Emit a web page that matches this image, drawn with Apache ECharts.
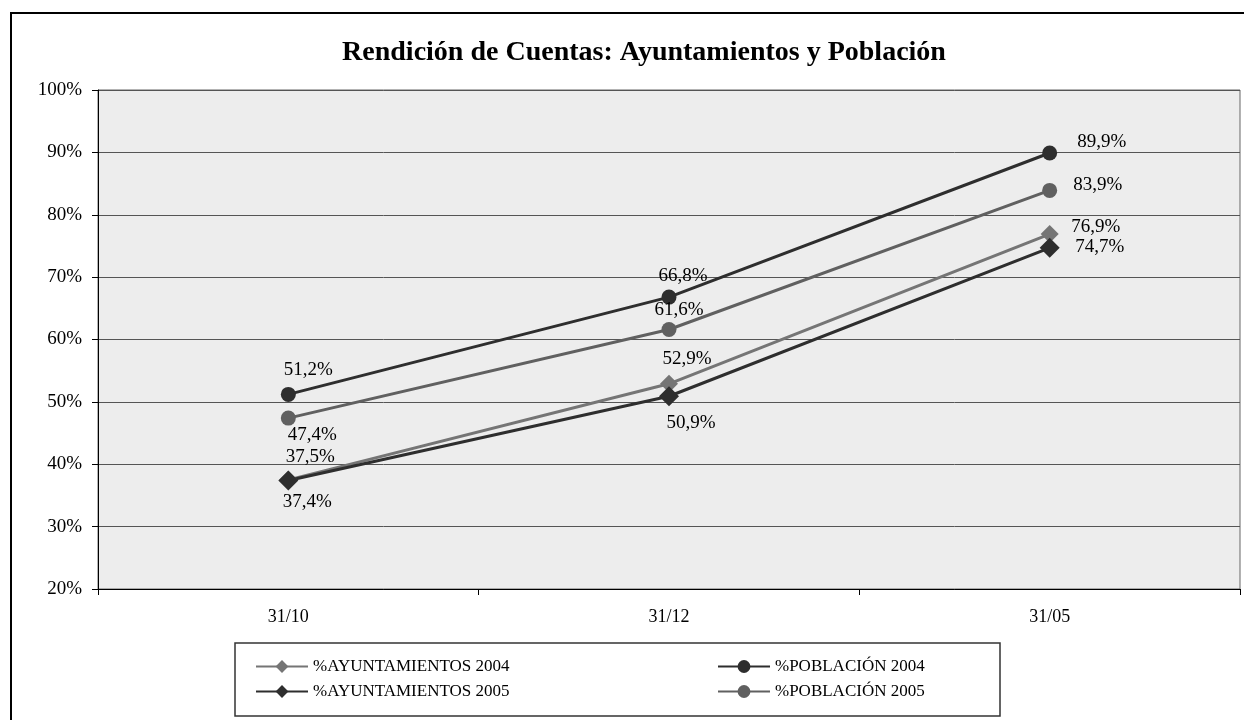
<!DOCTYPE html>
<html>
<head>
<meta charset="utf-8">
<script src="https://cdn.jsdelivr.net/npm/echarts@6/dist/echarts.min.js"></script>
<style>
html,body{margin:0;padding:0;background:#fff;}
#chart{width:1244px;height:720px;}
</style>
</head>
<body>
<div id="chart"></div>
<script>
var categories = ['31/10', '31/12', '31/05'];
var ayuntamientos2004 = [37.5, 52.9, 76.9];
var poblacion2004 = [51.2, 66.8, 89.9];
var ayuntamientos2005 = [37.4, 50.9, 74.7];
var poblacion2005 = [47.4, 61.6, 83.9];
var seriesNames = ['%AYUNTAMIENTOS 2004', '%POBLACIÓN 2004', '%AYUNTAMIENTOS 2005', '%POBLACIÓN 2005'];
var titleText = 'Rendición de Cuentas: Ayuntamientos y Población';

var FONT = '"Liberation Serif", "Times New Roman", serif';

// label offsets (label centre relative to point), per series / per point
var offsA04 = [[22, -23], [18, -25], [46, -7]];
var offsP04 = [[20, -24], [14, -21], [52, -11]];
var offsA05 = [[19, 22], [22, 27], [50, -1]];
var offsP05 = [[24, 17], [10, -20], [48, -5]];

function fmt(v) { return v.toFixed(1).replace('.', ',') + '%'; }

function makeSeries(name, values, offs, color, symbol, size) {
  return {
    name: name,
    type: 'line',
    data: values.map(function (v, i) {
      return {
        value: v,
        label: { offset: offs[i] }
      };
    }),
    symbol: symbol,
    symbolSize: size,
    showAllSymbol: true,
    lineStyle: { color: color, width: 3 },
    itemStyle: { color: color },
    label: {
      show: true,
      position: 'inside',
      align: 'center',
      verticalAlign: 'middle',
      fontFamily: FONT,
      fontSize: 19,
      color: '#000',
      formatter: function (p) { return fmt(p.value); }
    },
    emphasis: { disabled: true },
    animation: false
  };
}

var chart = echarts.init(document.getElementById('chart'), null, { renderer: 'canvas' });

var legendText = { fontFamily: FONT, fontSize: 17, color: '#000' };

chart.setOption({
  backgroundColor: '#fff',
  animation: false,
  title: {
    text: titleText,
    left: 639,
    textAlign: 'center',
    top: 34,
    textStyle: { fontFamily: FONT, fontSize: 28, fontWeight: 'bold', color: '#000' }
  },
  graphic: [
    { type: 'rect', shape: { x: 11, y: 13, width: 1300, height: 800 },
      style: { fill: 'none', stroke: '#000', lineWidth: 2 }, z: 100 },
    { type: 'rect', shape: { x: 235, y: 643, width: 765, height: 73 },
      style: { fill: '#fff', stroke: '#333', lineWidth: 1.5 }, z: 1 }
  ],
  legend: [
    {
      data: [seriesNames[0], seriesNames[2]],
      orient: 'vertical',
      left: 250, top: 653,
      itemWidth: 52, itemHeight: 16, itemGap: 8,
      textStyle: legendText,
      selectedMode: false,
      z: 5
    },
    {
      data: [seriesNames[1], seriesNames[3]],
      orient: 'vertical',
      left: 712, top: 653,
      itemWidth: 52, itemHeight: 16, itemGap: 8,
      textStyle: legendText,
      selectedMode: false,
      z: 5
    }
  ],
  grid: {
    left: 98, top: 90, right: 4, bottom: 131,
    show: true,
    backgroundColor: '#ededed',
    borderColor: '#666',
    borderWidth: 1
  },
  xAxis: {
    type: 'category',
    data: categories,
    boundaryGap: true,
    axisLine: { lineStyle: { color: '#000', width: 1 } },
    axisTick: { show: true, length: 6, inside: false, lineStyle: { color: '#000' } },
    axisLabel: { fontFamily: FONT, fontSize: 18, color: '#000', margin: 19 }
  },
  yAxis: {
    type: 'value',
    min: 20, max: 100, interval: 10,
    axisLine: { show: true, lineStyle: { color: '#000', width: 1 } },
    axisTick: { show: true, length: 6, lineStyle: { color: '#000' } },
    axisLabel: { fontFamily: FONT, fontSize: 19, color: '#000', margin: 16,
      formatter: '{value}%' },
    splitLine: { show: true, lineStyle: { color: '#555', width: 1 } }
  },
  series: [
    makeSeries(seriesNames[0], ayuntamientos2004, offsA04, '#757575', 'diamond', 18),
    makeSeries(seriesNames[1], poblacion2004, offsP04, '#2e2e2e', 'circle', 15),
    makeSeries(seriesNames[2], ayuntamientos2005, offsA05, '#2e2e2e', 'diamond', 20),
    makeSeries(seriesNames[3], poblacion2005, offsP05, '#606060', 'circle', 15)
  ]
});
</script>
</body>
</html>
